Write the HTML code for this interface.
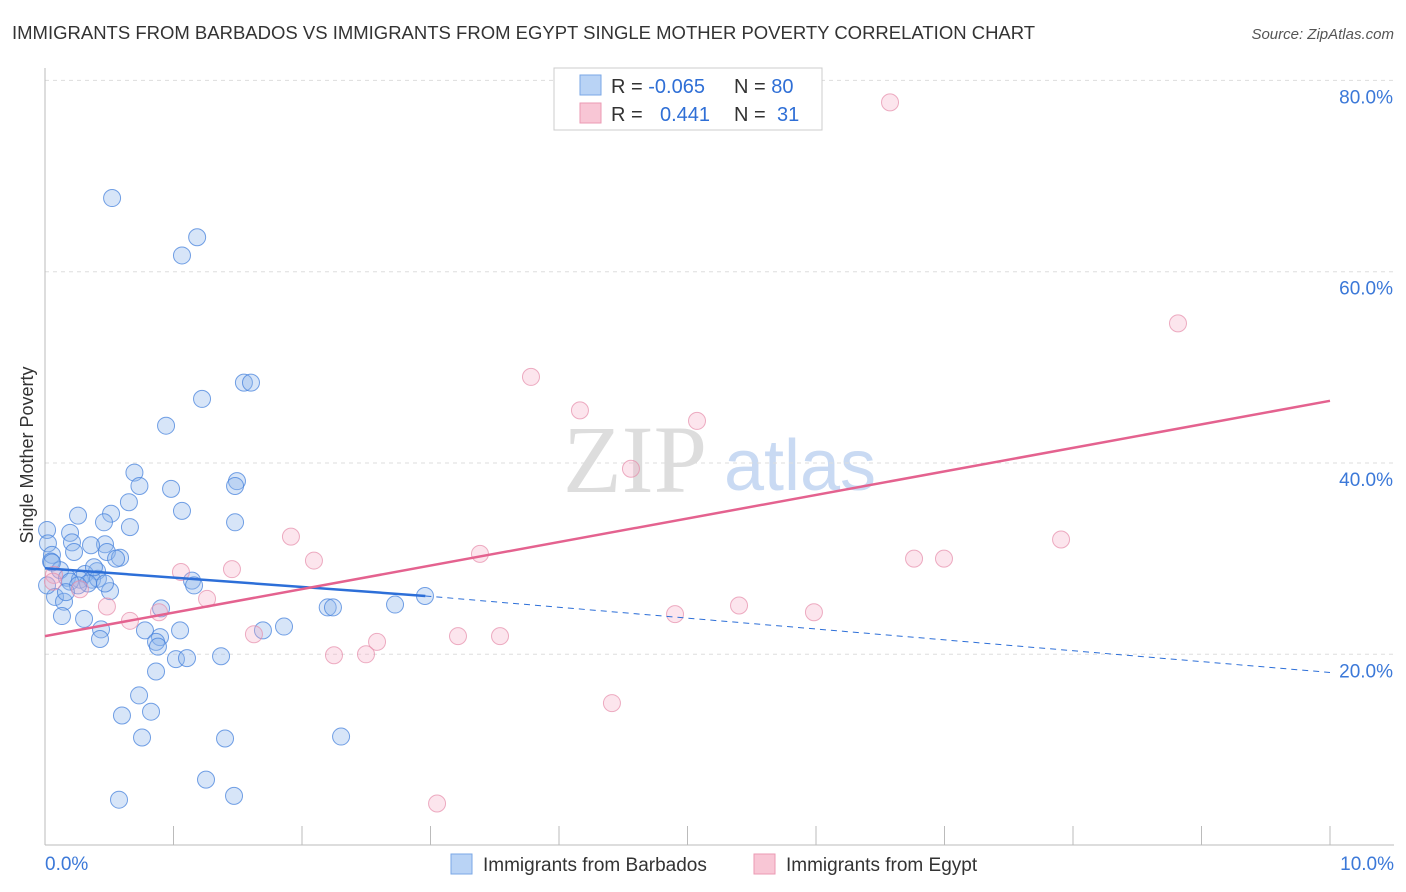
<!DOCTYPE html>
<html><head><meta charset="utf-8"><style>
body{margin:0;background:#fff;font-family:"Liberation Sans",sans-serif;}
#wrap{position:relative;width:1406px;height:892px;overflow:hidden;}
</style></head><body>
<div id="wrap">
<svg id="svg" width="1406" height="892" xmlns="http://www.w3.org/2000/svg">
<text x="12" y="39" font-size="18.5" fill="#333">IMMIGRANTS FROM BARBADOS VS IMMIGRANTS FROM EGYPT SINGLE MOTHER POVERTY CORRELATION CHART</text>
<text x="1394" y="39" font-size="15" fill="#555" font-style="italic" text-anchor="end">Source: ZipAtlas.com</text>
<text x="33" y="455" font-size="18" fill="#333" text-anchor="middle" transform="rotate(-90 33 455)">Single Mother Poverty</text>
<text x="635" y="492" font-size="96" fill="#ddd" font-family="Liberation Serif,serif" text-anchor="middle">ZIP</text>
<text x="800" y="490" font-size="72" fill="#c9daf3" text-anchor="middle">atlas</text>
<g id="grid"></g><g id="axes"></g><g id="pts"></g><g id="trend"></g>
<g>
<rect x="554" y="68" width="268" height="62" fill="#fff" stroke="#ccc"/>
<rect x="580" y="75" width="21" height="20" fill="#b9d3f5" stroke="#7aa7e6"/>
<rect x="580" y="103" width="21" height="20" fill="#f8c6d5" stroke="#eb9ab3"/>
<text x="611" y="93" font-size="20" fill="#333">R = <tspan fill="#2f6fd6">-0.065</tspan></text>
<text x="734" y="93" font-size="20" fill="#333">N = <tspan fill="#2f6fd6">80</tspan></text>
<text x="611" y="121" font-size="20" fill="#333">R = <tspan fill="#2f6fd6" x="660">0.441</tspan></text>
<text x="734" y="121" font-size="20" fill="#333">N = <tspan fill="#2f6fd6" x="777">31</tspan></text>
</g>
<g>
<rect x="451" y="854" width="21" height="20" fill="#b9d3f5" stroke="#7aa7e6"/>
<text x="483" y="871" font-size="19" fill="#333">Immigrants from Barbados</text>
<rect x="754" y="854" width="21" height="20" fill="#f8c6d5" stroke="#eb9ab3"/>
<text x="786" y="871" font-size="19" fill="#333">Immigrants from Egypt</text>
</g>
</svg>
</div>
<script>
const xTicks=[0,1,2,3,4,5,6,7,8,9,10];
const yTicks=[20,40,60,80];
const blueX=[5.22,11.84,10.66,15.48,16.03,12.22,9.42,6.96,7.35,9.81,14.94,14.79,6.53,10.66,2.57,5.14,4.59,14.79,6.61,0.16,1.95,2.1,0.23,4.67,3.58,2.26,4.82,0.54,5.84,5.53,0.47,1.17,4.05,3.11,1.71,2.72,3.66,4.12,3.35,11.44,11.6,5.06,0.78,1.48,9.03,22.0,22.41,27.24,29.57,1.32,3.04,4.36,7.78,10.51,16.96,18.6,8.95,8.64,4.28,8.79,10.19,11.05,13.7,8.64,7.32,8.25,5.99,7.55,14.01,23.04,12.53,14.71,5.76,0.54,3.81,1.95,2.57,1.63,4.67,0.16];
const blueY=[67.7,63.6,61.7,48.4,48.4,46.7,43.9,39.0,37.6,37.3,38.1,37.6,35.9,35.0,34.5,34.7,33.8,33.8,33.3,33.0,32.7,31.7,31.6,31.5,31.4,30.7,30.7,30.4,30.1,30.0,29.7,28.8,28.7,28.4,28.0,27.8,27.8,27.9,27.4,27.7,27.2,26.6,26.0,25.5,24.8,24.9,24.9,25.2,26.1,24.0,23.7,22.6,22.5,22.5,22.5,22.9,21.8,21.3,21.6,20.8,19.5,19.6,19.8,18.2,15.7,14.0,13.6,11.3,11.2,11.4,6.9,5.2,4.8,29.6,29.1,27.6,27.2,26.5,27.4,27.2];
const pinkX=[65.76,88.17,37.82,41.63,50.74,45.6,19.14,20.93,33.85,79.07,67.63,69.96,10.58,14.55,0.70,2.72,0.62,4.82,12.61,8.87,6.61,54.01,59.84,49.03,16.26,25.84,32.14,35.41,22.49,24.98,44.12,30.51];
const pinkY=[77.7,54.6,49.0,45.5,44.4,39.4,32.3,29.8,30.5,32.0,30.0,30.0,28.6,28.9,28.3,26.8,27.6,25.0,25.8,24.4,23.5,25.1,24.4,24.2,22.1,21.3,21.9,21.9,19.9,20.0,14.9,4.4];
const blueTrend=[[0,29.0],[2.96,26.1],[10,18.1]];
const pinkTrend=[[0,21.9],[10,46.5]];
const X=v=>45+v*128.5, Y=v=>845.6-v*9.565;
const ns="http://www.w3.org/2000/svg";
function mk(tag,attrs,parent){const e=document.createElementNS(ns,tag);for(const k in attrs)e.setAttribute(k,attrs[k]);document.getElementById(parent).appendChild(e);return e;}
yTicks.forEach(t=>{
 const l=mk('line',{x1:45,x2:1394,y1:Y(t),y2:Y(t),stroke:'#ddd','stroke-dasharray':'4 4'},'grid');
 
 
 const tx=mk('text',{x:1393,y:Y(t)+23,'font-size':19,fill:'#3b78d8','text-anchor':'end'},'grid');
 tx.textContent=t.toFixed(1)+'%';
 
 
});
const ya=mk('line',{x1:45,x2:45,y1:68,y2:845,stroke:'#bbb'},'axes');


const xa=mk('line',{x1:45,x2:1394,y1:845,y2:845,stroke:'#bbb'},'axes');


xTicks.forEach(t=>{
 const l=mk('line',{x1:X(t),x2:X(t),y1:826,y2:845,stroke:'#bbb'},'axes');
 
 
});
[[0,'0.0%','start',45],[10,'10.0%','end',1394]].forEach(d=>{
 const t=mk('text',{x:d[3],y:870,'font-size':19,fill:'#3b78d8','text-anchor':d[2]},'axes');
 t.textContent=d[1];
 
 
});
for(let i=0;i<blueX.length;i++){
 const c=mk('circle',{cx:X(blueX[i]/10),cy:Y(blueY[i]),r:8.5,fill:'rgba(140,180,235,0.35)',stroke:'rgba(70,130,220,0.75)','stroke-width':1},'pts');
 
 
}
for(let i=0;i<pinkX.length;i++){
 const c=mk('circle',{cx:X(pinkX[i]/10),cy:Y(pinkY[i]),r:8.5,fill:'rgba(245,170,195,0.3)',stroke:'rgba(230,140,170,0.7)','stroke-width':1},'pts');
 
 
}
const b1=mk('line',{x1:X(blueTrend[0][0]),y1:Y(blueTrend[0][1]),x2:X(blueTrend[1][0]),y2:Y(blueTrend[1][1]),stroke:'#2d6fd8','stroke-width':2.5},'trend');


const b2=mk('line',{x1:X(blueTrend[1][0]),y1:Y(blueTrend[1][1]),x2:X(blueTrend[2][0]),y2:Y(blueTrend[2][1]),stroke:'#2d6fd8','stroke-width':1,'stroke-dasharray':'6 5'},'trend');


const p1=mk('line',{x1:X(pinkTrend[0][0]),y1:Y(pinkTrend[0][1]),x2:X(pinkTrend[1][0]),y2:Y(pinkTrend[1][1]),stroke:'#e4628f','stroke-width':2.5},'trend');


</script>
</body></html>
